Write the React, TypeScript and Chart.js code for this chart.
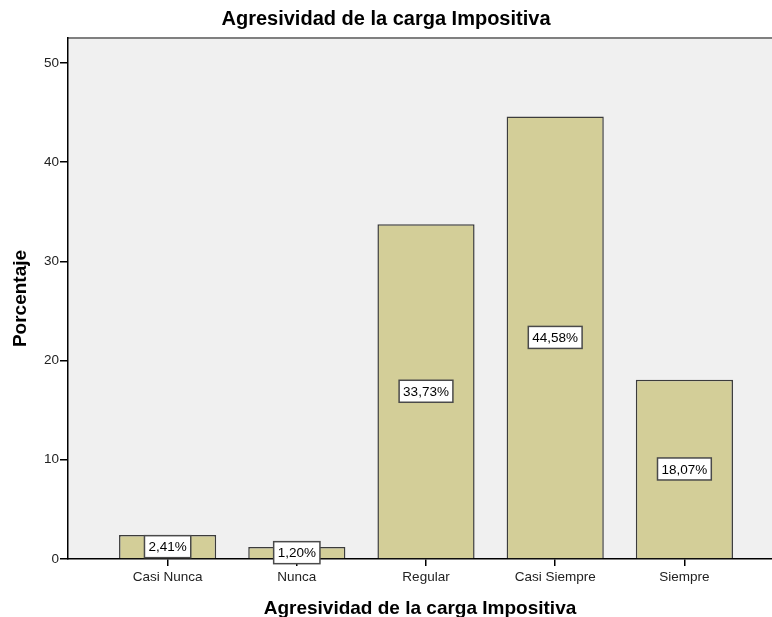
import React, { useEffect, useRef } from 'react';
import { Chart, registerables } from 'chart.js';

Chart.register(...registerables);

const chartTitle = 'Agresividad de la carga Impositiva';
const xAxisTitle = 'Agresividad de la carga Impositiva';
const yAxisTitle = 'Porcentaje';
const categories = ['Casi Nunca', 'Nunca', 'Regular', 'Casi Siempre', 'Siempre'];
const percentages = [2.41, 1.2, 33.73, 44.58, 18.07];
const yTicks = [0, 10, 20, 30, 40, 50];

const FONT = "'Liberation Sans', Arial, sans-serif";

const fmt = (v: number) => v.toFixed(2).replace('.', ',') + '%';

const bgPlugin = {
  id: 'bgPlugin',
  beforeDraw(chart: any) {
    const { ctx, chartArea: a } = chart;
    ctx.save();
    ctx.fillStyle = '#ffffff';
    ctx.fillRect(0, 0, chart.width, chart.height);
    ctx.fillStyle = '#f0f0f0';
    ctx.fillRect(a.left, a.top, a.right - a.left, a.bottom - a.top);
    ctx.strokeStyle = '#808080';
    ctx.lineWidth = 2;
    ctx.beginPath();
    ctx.moveTo(a.left, a.top);
    ctx.lineTo(a.right, a.top);
    ctx.stroke();
    ctx.restore();
  },
};

const labelPlugin = {
  id: 'labelPlugin',
  afterDatasetsDraw(chart: any) {
    const { ctx } = chart;
    const meta = chart.getDatasetMeta(0);
    ctx.save();
    ctx.font = `13.5px ${FONT}`;
    ctx.textAlign = 'center';
    ctx.textBaseline = 'middle';
    meta.data.forEach((el: any, i: number) => {
      const text = fmt(percentages[i]);
      const cx = el.x;
      const cy = (el.y + el.base) / 2;
      const w = ctx.measureText(text).width + 8;
      const h = 22;
      ctx.fillStyle = '#ffffff';
      ctx.fillRect(cx - w / 2, cy - h / 2, w, h);
      ctx.strokeStyle = '#4a4a4a';
      ctx.lineWidth = 1.5;
      ctx.strokeRect(cx - w / 2, cy - h / 2, w, h);
      ctx.fillStyle = '#000000';
      ctx.fillText(text, cx, cy + 1);
    });
    ctx.restore();
  },
};

export default function App() {
  const ref = useRef<HTMLCanvasElement>(null);
  useEffect(() => {
    if (!ref.current) return;
    const chart = new Chart(ref.current, {
      type: 'bar',
      data: {
        datasets: [
          {
            data: percentages.map((y, i) => ({ x: i, y })),
            backgroundColor: '#d3ce98',
            borderColor: '#3c3c3c',
            borderWidth: 1.5,
            categoryPercentage: 1,
            barPercentage: 0.752,
          },
        ],
      },
      options: {
        responsive: false,
        animation: false,
        layout: { padding: 0 },
        plugins: {
          legend: { display: false },
          tooltip: { enabled: false },
          title: {
            display: true,
            text: chartTitle,
            color: '#000000',
            font: { family: FONT, size: 20, weight: 'bold', lineHeight: 1.2 },
            padding: { top: 7.5, bottom: 6.5 },
          },
        },
        scales: {
          x: {
            type: 'linear',
            min: -0.771,
            max: 4.678,
            offset: false,
            z: 1,
            afterFit: (s: any) => {
              s.height = 58;
            },
            afterBuildTicks: (s: any) => {
              s.ticks = categories.map((_, i) => ({ value: i }));
            },
            ticks: {
              callback: (v: any) => categories[v as number] ?? '',
              color: '#222222',
              font: { family: FONT, size: 13.5 },
              padding: 3,
              maxRotation: 0,
              autoSkip: false,
            },
            grid: {
              display: true,
              offset: false,
              drawOnChartArea: false,
              drawTicks: true,
              tickLength: 7,
              color: '#000000',
              lineWidth: 1.5,
            },
            border: { display: true, color: '#000000', width: 1.5 },
            title: {
              display: true,
              text: xAxisTitle,
              color: '#000000',
              font: { family: FONT, size: 19, weight: 'bold', lineHeight: 0.85 },
              padding: { top: 0, bottom: 0 },
            },
          },
          y: {
            type: 'linear',
            min: 0,
            max: 52.5,
            afterFit: (s: any) => {
              s.width = 68;
            },
            afterBuildTicks: (s: any) => {
              s.ticks = yTicks.map((v) => ({ value: v }));
            },
            ticks: {
              color: '#222222',
              font: { family: FONT, size: 13.5 },
              padding: 1,
            },
            grid: {
              display: true,
              drawOnChartArea: false,
              drawTicks: true,
              tickLength: 8,
              color: '#000000',
              lineWidth: 1.5,
            },
            border: { display: true, color: '#000000', width: 1.5 },
            title: {
              display: true,
              text: yAxisTitle,
              color: '#000000',
              font: { family: FONT, size: 19, weight: 'bold', lineHeight: 1.2 },
              padding: { top: 8.9, bottom: 0 },
            },
          },
        },
      },
      plugins: [bgPlugin, labelPlugin],
    } as any);
    return () => chart.destroy();
  }, []);
  return (
    <div style={{ position: 'absolute', left: 0, top: 0, width: 772, height: 617 }}>
      <canvas ref={ref} width={772} height={617} style={{ display: 'block' }} />
    </div>
  );
}
